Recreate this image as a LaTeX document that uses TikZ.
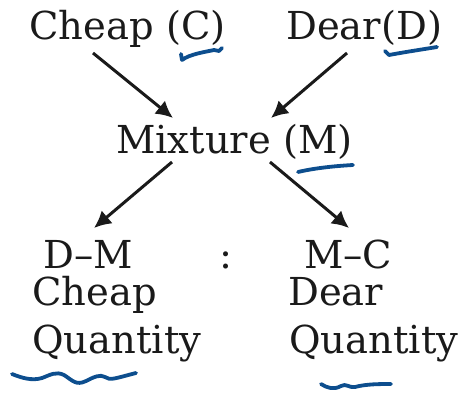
\documentclass[tikz,border=0pt]{standalone}
\usepackage{fontspec}
\setmainfont{DejaVu Serif}
\usetikzlibrary{arrows.meta}
\definecolor{penblue}{HTML}{0D4E8E}
\definecolor{inkgrey}{HTML}{1A1A1A}
\tikzset{
  txt/.style={inner sep=0pt, anchor=base west, font=\fontsize{38.5}{42}\selectfont, text=inkgrey},
  arr/.style={line width=3pt, draw=inkgrey, -{Latex[length=17pt,width=17pt]}},
  pen/.style={draw=penblue, line width=3.8pt, line cap=round, line join=round},
}
\begin{document}
\begin{tikzpicture}[x=1pt,y=-1pt]
\useasboundingbox (0,0) rectangle (470,394);
\node[txt] (cheap) at (29,39) {Cheap (C)};
\node[txt] (dear) at (286,39) {Dear(D)};
\node[txt] (mix) at (116,153) {Mixture (M)};
\node[txt] (dm) at (43,268) {D–M};
\node[txt, anchor=base] (colon) at (226,268) {:};
\node[txt] (mc) at (304,268) {M–C};
\node[txt] (cheapq) at (32,305) {Cheap};
\node[txt] (dearq) at (288,305) {Dear};
\node[txt] (q1) at (32,353) {Quantity};
\node[txt] (q2) at (289,353) {Quantity};
% arrow endpoints
\coordinate (a1s) at (93,53);  \coordinate (a1e) at (173,118);
\coordinate (a2s) at (347,53); \coordinate (a2e) at (271,118);
\coordinate (a3s) at (172,162); \coordinate (a3e) at (94,228);
\coordinate (a4s) at (270,162); \coordinate (a4e) at (349,228);
\draw[arr] (a1s) -- (a1e);
\draw[arr] (a2s) -- (a2e);
\draw[arr] (a3s) -- (a3e);
\draw[arr] (a4s) -- (a4e);
% pen marks
\draw[pen] (181,54) -- (182,60) .. controls (190,54) and (205,52) .. (214,50) -- (219,51) -- (222,48);
\draw[pen] (385,51) -- (389,55) .. controls (405,52) and (425,49) .. (437,47);
\draw[pen] (298,172) .. controls (315,168) and (335,166) .. (353,165);
\draw[pen] (12,374) .. controls (22,378) and (32,381) .. (42,378)
  .. controls (50,375) and (56,371) .. (64,375)
  .. controls (72,380) and (76,386) .. (86,381)
  .. controls (94,377) and (100,374) .. (105,377)
  .. controls (110,381) and (116,378) .. (136,373);
\draw[pen] (321,384) .. controls (327,388) and (334,390) .. (341,386)
  .. controls (346,383) and (349,388) .. (355,387)
  .. controls (366,384) and (380,384) .. (391,384);
\end{tikzpicture}
\end{document}
